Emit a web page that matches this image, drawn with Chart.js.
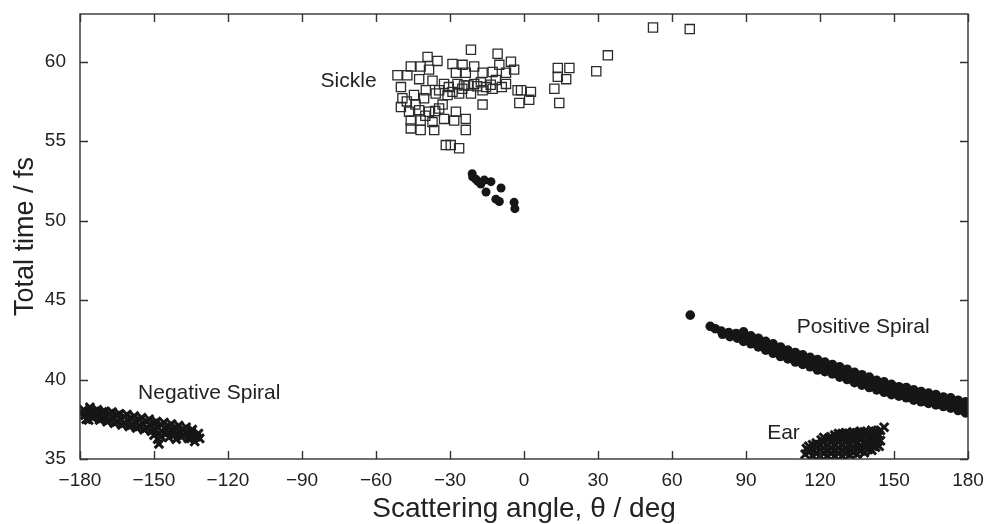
<!DOCTYPE html>
<html>
<head>
<meta charset="utf-8">
<title>Scattering angle vs total time</title>
<script src="https://cdn.jsdelivr.net/npm/chart.js@4/dist/chart.umd.min.js"></script>
<style>
  html, body { margin: 0; padding: 0; background: #ffffff; }
  #wrap { width: 986px; height: 524px; }
</style>
</head>
<body>
<div id="wrap"><canvas id="c" width="986" height="524"></canvas></div>
<script>
// ---- data: [scattering angle (deg), total time (fs)] ----
const sickle = [
  [-21.5,60.75],[-10.7,60.5],[-39.1,60.3],[-35.1,60.05],[-29.0,59.85],[-24.9,59.8],
  [-20.2,59.7],[-45.9,59.7],[-41.9,59.7],[-5.3,60.0],[-10.0,59.8],[-4.0,59.5],
  [-51.3,59.15],[-47.3,59.15],[-38.5,59.5],[-27.6,59.3],[-23.6,59.3],[-16.8,59.3],
  [-12.7,59.35],[-7.3,59.3],[-2.6,58.2],[-49.9,58.4],[-42.5,58.9],[-37.1,58.8],
  [-32.4,58.6],[-39.8,58.2],[-34.4,58.2],[-29.0,58.1],[-24.3,58.5],[-20.2,58.6],
  [-15.4,58.4],[-11.4,58.85],[-7.3,58.6],[-1.2,58.2],[-49.3,57.7],[-44.6,57.9],
  [-40.5,57.7],[-35.8,58.0],[-31.0,57.9],[-26.3,58.0],[-21.5,58.0],[-16.8,58.2],
  [-12.7,58.3],[-16.8,57.3],[-1.9,57.4],[-49.9,57.15],[-46.6,56.85],[-42.5,56.95],
  [-38.5,56.85],[-34.4,57.05],[-27.6,56.85],[-23.6,56.4],[-45.9,56.3],[-41.9,56.3],
  [-37.1,56.2],[-32.4,56.4],[-28.3,56.3],[-45.9,55.8],[-41.9,55.7],[-36.4,55.7],
  [-23.6,55.7],[-31.7,54.75],[-29.7,54.75],[-26.3,54.55],
  [-30.5,58.4],[-27.0,58.6],[-25.0,58.3],[-22.5,58.5],[-19.0,58.45],[-17.5,58.7],
  [-13.5,58.55],[-9.0,58.4],[-44.0,57.3],[-40.0,56.6],[-36.0,56.9],[-33.0,57.3],
  [-47.5,57.5],
  [13.7,59.6],[18.4,59.6],[13.7,59.05],[17.1,58.9],[12.3,58.3],[14.3,57.4],
  [29.3,59.4],[34.0,60.4],[52.3,62.15],[67.2,62.05],[2.8,58.1],[2.1,57.6]
];

const knot = [
  [-21.0,52.95],[-20.8,52.75],[-19.5,52.6],[-18.6,52.45],[-17.5,52.3],[-16.1,52.55],
  [-13.4,52.45],[-15.4,51.8],[-9.3,52.05],[-11.4,51.35],[-10.0,51.2],[-4.0,51.15],
  [-3.7,50.75]
];

const positiveSpiral = [
  [67.4,44.05],
  [75.5,43.35],[77.5,43.2],[80,43.05],[80.5,42.85],[83,42.95],[83.5,42.7],
  [86,42.9],[86.5,42.6],[89,43.0],[89.5,42.55],[89,42.4],
  [92,42.75],[92.5,42.45],[92,42.25],[95,42.6],[95.5,42.3],[95,42.05],
  [98,42.4],[98.5,42.1],[98,41.85],[101,42.25],[101.5,41.95],[101,41.65],
  [104,42.05],[104.5,41.75],[104,41.45],[107,41.85],[107.5,41.55],[107,41.3],
  [110,41.7],[110.5,41.4],[110,41.1],[113,41.55],[113.5,41.25],[113,40.95],
  [116,41.4],[116.5,41.1],[116,40.8],[119,41.25],[119.5,40.9],[119,40.6],
  [122,41.1],[122.5,40.8],[122,40.5],[125,40.95],[125.5,40.65],[125,40.35],
  [128,40.8],[128.5,40.45],[128,40.15],[131,40.65],[131.5,40.3],[131,40.0],
  [134,40.45],[134.5,40.1],[134,39.8],[137,40.3],[137.5,39.95],[137,39.65],
  [140,40.15],[140.5,39.8],[140,39.5],[143,39.95],[143.5,39.65],[143,39.35],
  [146,39.85],[146.5,39.5],[146,39.2],[149,39.7],[149.5,39.35],[149,39.05],
  [152,39.55],[152.5,39.25],[152,38.95],[155,39.5],[155.5,39.15],[155,38.85],
  [158,39.35],[158.5,39.0],[158,38.7],[161,39.25],[161.5,38.9],[161,38.6],
  [164,39.15],[164.5,38.8],[164,38.5],[167,39.05],[167.5,38.7],[167,38.4],
  [170,38.9],[170.5,38.6],[170,38.3],[173,38.85],[173.5,38.5],[173,38.2],
  [176,38.7],[176.5,38.35],[176,38.05],[179,38.6],[179.5,38.25],[179,37.9]
];

const negativeSpiral = [
  [-178.5,38.1],[-178,37.75],[-177.5,37.5],[-179,37.9],
  [-176,38.25],[-175.5,37.9],[-175,37.6],[-176.5,37.45],
  [-174,38.0],[-174,37.7],
  [-173,38.1],[-172.5,37.8],[-172,37.45],
  [-171,37.95],[-171,37.55],
  [-170,38.0],[-169.5,37.65],[-169,37.35],
  [-168,37.85],[-168,37.45],
  [-167,37.95],[-166.5,37.6],[-166,37.25],
  [-165,37.75],[-165,37.35],
  [-164,37.85],[-163.5,37.5],[-163,37.15],
  [-162,37.65],[-162,37.25],
  [-161,37.8],[-160.5,37.45],[-160,37.05],
  [-159,37.55],[-159,37.15],
  [-158,37.7],[-157.5,37.35],[-157,36.95],
  [-156,37.45],[-156,37.05],
  [-155,37.6],[-154.5,37.25],[-154,36.85],
  [-153,37.35],[-153,36.95],
  [-152,37.5],[-151.5,37.15],[-151,36.75],
  [-150,37.25],[-150,36.85],[-150,36.5],
  [-149,37.35],[-148.5,37.0],[-148,36.6],[-148.5,36.25],[-148,35.95],
  [-147,37.15],[-147,36.75],[-147,36.4],
  [-146,37.3],[-145.5,36.95],[-145,36.6],
  [-144,37.05],[-144,36.7],[-144,36.35],
  [-143,37.2],[-142.5,36.85],[-142,36.5],
  [-141,36.95],[-141,36.6],[-141,36.25],
  [-140,37.1],[-139.5,36.75],[-139,36.4],
  [-138,36.85],[-138,36.5],
  [-137,37.0],[-136.5,36.65],[-136,36.3],
  [-135,36.7],[-135,36.3],
  [-134.5,36.85],[-134,36.5],[-133.5,36.1],
  [-133,36.4],[-132,36.6],[-131.5,36.3]
];

const ear = [
  [114,35.3],[114.5,35.65],[115.5,35.45],[115.5,35.8],
  [117,35.2],[117.5,35.55],[117,35.9],
  [118.5,35.35],[118.5,35.7],[118.5,36.0],
  [120,35.2],[120.5,35.55],[120,35.9],[120.5,36.2],
  [121.5,35.35],[121.5,35.7],[121.5,36.05],[121.5,36.35],
  [123,35.2],[123.5,35.55],[123,35.9],[123.5,36.3],
  [124.5,35.35],[124.5,35.7],[124.5,36.05],[124.5,36.4],
  [126,35.2],[126.5,35.55],[126,35.9],[126.5,36.25],[126,36.5],
  [127.5,35.35],[127.5,35.7],[127.5,36.05],[127.5,36.4],[127.5,36.6],
  [129,35.2],[129.5,35.55],[129,35.9],[129.5,36.25],[129,36.6],
  [130.5,35.35],[130.5,35.7],[130.5,36.05],[130.5,36.4],[130.5,36.65],
  [132,35.25],[132.5,35.6],[132,35.95],[132.5,36.3],[132,36.6],
  [133.5,35.4],[133.5,35.75],[133.5,36.1],[133.5,36.45],[133.5,36.7],
  [135,35.3],[135.5,35.65],[135,36.0],[135.5,36.35],[135,36.65],
  [136.5,35.5],[136.5,35.85],[136.5,36.2],[136.5,36.55],[136.5,36.75],
  [138,35.4],[138.5,35.75],[138,36.1],[138.5,36.45],[138,36.7],
  [139.5,35.6],[139.5,35.95],[139.5,36.3],[139.5,36.65],
  [141,35.55],[141.5,35.9],[141,36.25],[141.5,36.6],[141,36.8],
  [142.5,35.75],[142.5,36.1],[142.5,36.45],[142.5,36.75],
  [144,35.8],[144.5,36.15],[144,36.5],[144.5,36.8],
  [146,37.0]
];

// axis ticks
const xTicks = [-180,-150,-120,-90,-60,-30,0,30,60,90,120,150,180];
const yTicks = [35,40,45,50,55,60];

// region names and where they sit (data coordinates)
const regionNames = ['Sickle', 'Negative Spiral', 'Positive Spiral', 'Ear'];
const regionX = [-71.1, -127.6, 137.5, 105.2];
const regionY = [58.8, 39.15, 43.3, 36.64];

const toPoints = arr => arr.map(p => ({ x: p[0], y: p[1] }));
const ink = '#161616';
const fontFamily = "'Liberation Sans', Arial, Helvetica, sans-serif";

// frame, inward ticks on all four sides, region names
const framePlugin = {
  id: 'frameAndNames',
  afterDatasetsDraw(chart) {
    const { ctx, chartArea: a, scales } = chart;
    const xs = scales.x, ys = scales.y;
    const len = 8;
    ctx.save();
    ctx.strokeStyle = '#333';
    ctx.lineWidth = 1.4;
    ctx.strokeRect(a.left, a.top, a.right - a.left, a.bottom - a.top);
    ctx.beginPath();
    xTicks.forEach(v => {
      const px = Math.round(xs.getPixelForValue(v)) + 0.5;
      ctx.moveTo(px, a.bottom); ctx.lineTo(px, a.bottom - len);
      ctx.moveTo(px, a.top); ctx.lineTo(px, a.top + len);
    });
    yTicks.forEach(v => {
      const py = Math.round(ys.getPixelForValue(v)) + 0.5;
      ctx.moveTo(a.left, py); ctx.lineTo(a.left + len, py);
      ctx.moveTo(a.right, py); ctx.lineTo(a.right - len, py);
    });
    ctx.stroke();

    ctx.fillStyle = '#222';
    ctx.font = '21px ' + fontFamily;
    ctx.textAlign = 'center';
    ctx.textBaseline = 'middle';
    regionNames.forEach((t, i) => {
      ctx.fillText(t, xs.getPixelForValue(regionX[i]), ys.getPixelForValue(regionY[i]));
    });
    ctx.restore();
  }
};

const minus = v => String(v).replace('-', '\u2212');

const crossSet = (label, arr) => ({
  label,
  data: toPoints(arr),
  pointStyle: 'crossRot',
  pointRadius: 6,
  borderWidth: 3,
  borderColor: ink,
  backgroundColor: ink,
  clip: 0
});

new Chart(document.getElementById('c'), {
  type: 'scatter',
  data: {
    datasets: [
      {
        label: 'Sickle',
        data: toPoints(sickle),
        pointStyle: 'rect',
        pointRadius: 6.5,
        borderWidth: 1.3,
        borderColor: '#2b2b2b',
        backgroundColor: 'rgba(255,255,255,0)',
        clip: 0
      },
      {
        label: 'Knot',
        data: toPoints(knot),
        pointStyle: 'circle',
        pointRadius: 4.5,
        borderWidth: 0,
        backgroundColor: ink,
        clip: 0
      },
      {
        label: 'Positive spiral',
        data: toPoints(positiveSpiral),
        pointStyle: 'circle',
        pointRadius: 4.8,
        borderWidth: 0,
        backgroundColor: ink,
        clip: 0
      },
      crossSet('Negative spiral', negativeSpiral),
      crossSet('Ear', ear)
    ]
  },
  options: {
    responsive: false,
    animation: false,
    devicePixelRatio: 1,
    layout: { padding: { left: 0, right: 18, top: 14, bottom: 0 } },
    plugins: { legend: { display: false }, tooltip: { enabled: false } },
    scales: {
      x: {
        type: 'linear',
        min: -180,
        max: 180,
        afterBuildTicks: s => { s.ticks = xTicks.map(v => ({ value: v })); },
        afterFit: s => { s.height = 65; s.paddingLeft = 0; s.paddingRight = 0; },
        grid: { display: false, drawTicks: false },
        border: { display: false },
        ticks: {
          autoSkip: false,
          maxRotation: 0,
          padding: 10,
          color: '#222',
          font: { family: fontFamily, size: 19 },
          callback: v => minus(v)
        },
        title: {
          display: true,
          text: 'Scattering angle, \u03B8 / deg',
          color: '#222',
          font: { family: fontFamily, size: 28, lineHeight: 1.05 },
          padding: { top: 0, bottom: 0 }
        }
      },
      y: {
        type: 'linear',
        min: 35,
        max: 63,
        afterBuildTicks: s => { s.ticks = yTicks.map(v => ({ value: v })); },
        afterFit: s => { s.width = 80; s.paddingTop = 0; s.paddingBottom = 0; },
        grid: { display: false, drawTicks: false },
        border: { display: false },
        ticks: {
          padding: 14,
          color: '#222',
          font: { family: fontFamily, size: 19 },
          callback: v => minus(v)
        },
        title: {
          display: true,
          text: 'Total time / fs',
          color: '#222',
          font: { family: fontFamily, size: 27, lineHeight: 1.1 },
          padding: { top: 11, bottom: 0 }
        }
      }
    }
  },
  plugins: [framePlugin]
});
</script>
</body>
</html>
